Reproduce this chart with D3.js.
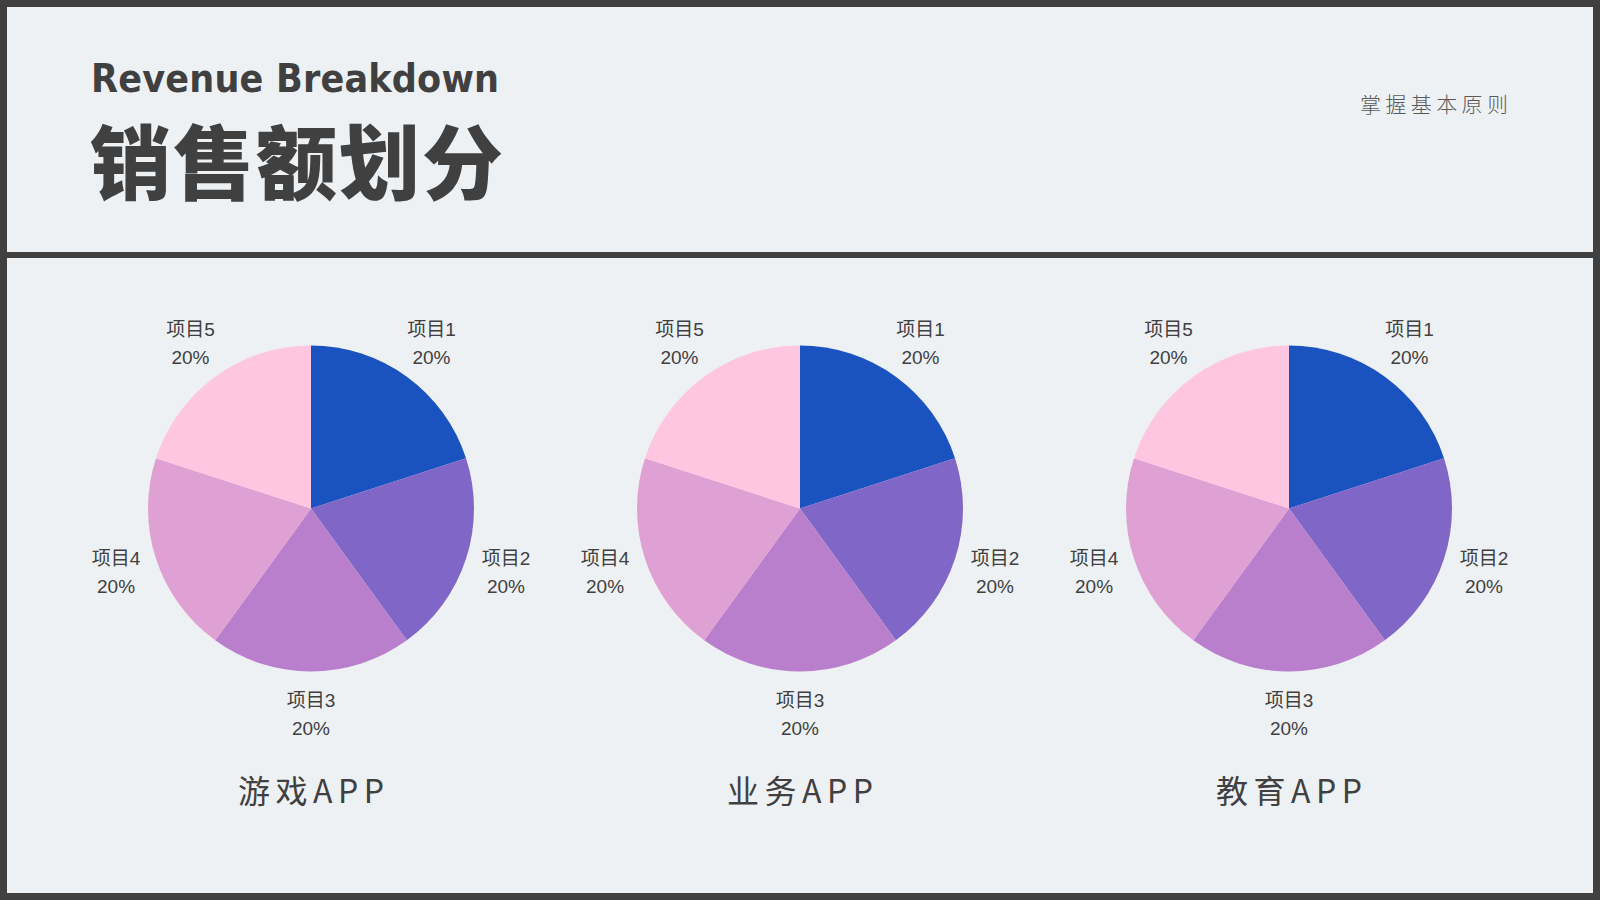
<!DOCTYPE html>
<html>
<head>
<meta charset="utf-8">
<script src="https://cdn.jsdelivr.net/npm/d3@7"></script>
<style>
  html, body { margin: 0; padding: 0; background: #404040; }
  svg { display: block; }
</style>
</head>
<body>
<svg id="chart" width="1600" height="900"></svg>
<script>
const categories = ["项目1", "项目2", "项目3", "项目4", "项目5"];
const appNames = ["游戏APP", "业务APP", "教育APP"];
const gameValues = [20, 20, 20, 20, 20];
const businessValues = [20, 20, 20, 20, 20];
const educationValues = [20, 20, 20, 20, 20];
const sliceColors = ["#1a52bf", "#8066c7", "#b97fcd", "#dfa0d3", "#fec6e1"];

const seriesList = [gameValues, businessValues, educationValues];

const svg = d3.select("#chart");
const W = 1600, H = 900;
const bg = "#eef1f4", frame = "#404040", ink = "#404040";

svg.append("rect").attr("width", W).attr("height", H).attr("fill", frame);
svg.append("rect").attr("x", 7).attr("y", 7).attr("width", 1586).attr("height", 245).attr("fill", bg);
svg.append("rect").attr("x", 7).attr("y", 258).attr("width", 1586).attr("height", 635).attr("fill", bg);

svg.append("text")
  .attr("x", 91).attr("y", 91.5)
  .attr("font-family", "'DejaVu Sans Condensed', 'DejaVu Sans', sans-serif")
  .style("font-stretch", "condensed")
  .attr("font-weight", 700).attr("font-size", 39)
  .attr("textLength", 408).attr("lengthAdjust", "spacing")
  .attr("fill", ink).text("Revenue Breakdown");

svg.append("text")
  .attr("x", 90).attr("y", 193)
  .attr("font-family", "'Noto Sans CJK SC', sans-serif")
  .attr("font-weight", 900).attr("font-size", 81)
  .attr("textLength", 413).attr("lengthAdjust", "spacing")
  .attr("fill", ink).text("销售额划分");

svg.append("text")
  .attr("x", 1360).attr("y", 112)
  .attr("font-family", "'Noto Sans CJK SC', sans-serif")
  .attr("font-weight", 300).attr("font-size", 21)
  .attr("textLength", 148).attr("lengthAdjust", "spacing")
  .attr("fill", "#5a5a5a").text("掌握基本原则");

const x = d3.scalePoint().domain(appNames).range([311, 1289]);
const color = d3.scaleOrdinal().domain(categories).range(sliceColors);
const R = 163;
const pie = d3.pie().sort(null).value(d => d.value);
const arc = d3.arc().innerRadius(0).outerRadius(R);
const labelArc = d3.arc().innerRadius(205).outerRadius(205);
const cy = 508.5;

appNames.forEach((name, i) => {
  const data = categories.map((c, k) => ({ cat: c, value: seriesList[i][k] }));
  const total = d3.sum(data, d => d.value);
  const g = svg.append("g").attr("transform", `translate(${x(name)},${cy})`);
  const arcs = pie(data);
  g.selectAll("path").data(arcs).join("path")
    .attr("d", arc)
    .attr("fill", d => color(d.data.cat));
  const lab = g.selectAll("g.lab").data(arcs).join("g")
    .attr("class", "lab")
    .attr("transform", d => `translate(${labelArc.centroid(d)})`);
  lab.append("text")
    .attr("y", -7)
    .attr("text-anchor", "middle")
    .attr("font-family", "'Liberation Sans', 'Noto Sans CJK SC', sans-serif")
    .attr("font-size", 19).attr("fill", ink)
    .text(d => d.data.cat);
  lab.append("text")
    .attr("y", 21.5)
    .attr("text-anchor", "middle")
    .attr("font-family", "'Liberation Sans', sans-serif")
    .attr("font-size", 19).attr("fill", ink)
    .text(d => d3.format(".0%")(d.data.value / total));
  svg.append("text")
    .attr("x", x(name) - 73).attr("y", 803)
    .attr("font-family", "'Noto Sans CJK SC', sans-serif")
    .attr("font-size", 32).attr("fill", ink)
    .attr("textLength", 146).attr("lengthAdjust", "spacing")
    .text(name);
});
</script>
</body>
</html>
